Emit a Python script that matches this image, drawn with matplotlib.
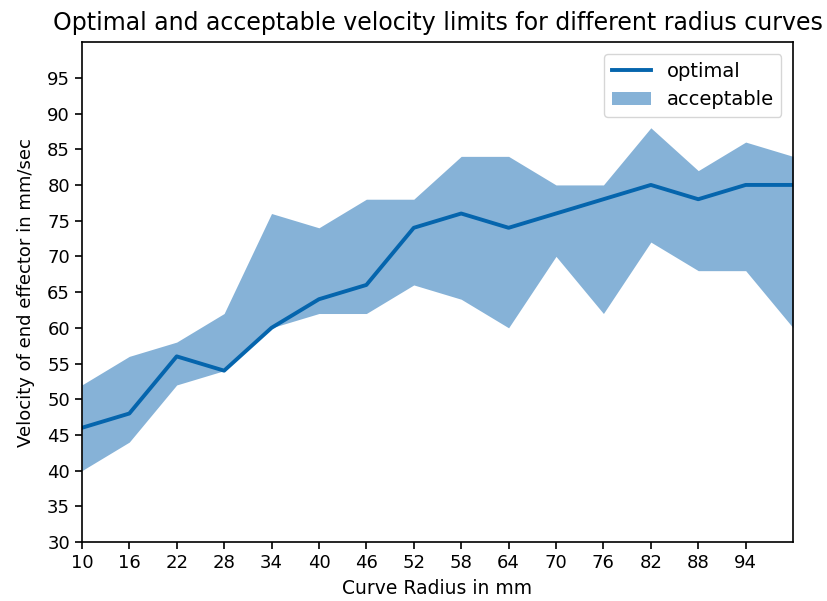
import matplotlib
matplotlib.use("Agg")
import matplotlib.pyplot as plt

# curve radius (mm) and velocity limits (mm/sec)
radius = [10, 16, 22, 28, 34, 40, 46, 52, 58, 64, 70, 76, 82, 88, 94, 100]
optimal = [46, 48, 56, 54, 60, 64, 66, 74, 76, 74, 76, 78, 80, 78, 80, 80]
upper = [52, 56, 58, 62, 76, 74, 78, 78, 84, 84, 80, 80, 88, 82, 86, 84]
lower = [40, 44, 52, 54, 60, 62, 62, 66, 64, 60, 70, 62, 72, 68, 68, 60]

fig = plt.figure(figsize=(8.27, 6.01), dpi=100)
ax = fig.add_axes([0.099, 0.098, 0.860, 0.832])

ax.plot(radius, optimal, color='#0565ad', linewidth=2.8, label='optimal')
ax.fill_between(radius, lower, upper, color='#86b2d7', linewidth=0, label='acceptable')

ax.set_xlim(10, 100)
ax.set_ylim(30, 100)
ax.set_xticks(radius[:-1])
ax.set_yticks(range(30, 100, 5))
ax.tick_params(labelsize=13, length=5, width=1.2)
for s in ax.spines.values():
    s.set_linewidth(1.2)

ax.set_xlabel('Curve Radius in mm', fontsize=13.5, labelpad=5)
ax.set_ylabel('Velocity of end effector in mm/sec', fontsize=13, labelpad=9)
ax.set_title('Optimal and acceptable velocity limits for different radius curves',
             fontsize=17, pad=9)
ax.legend(loc='upper right', fontsize=14, borderaxespad=0.6)

fig.savefig('out.png', dpi=100)
